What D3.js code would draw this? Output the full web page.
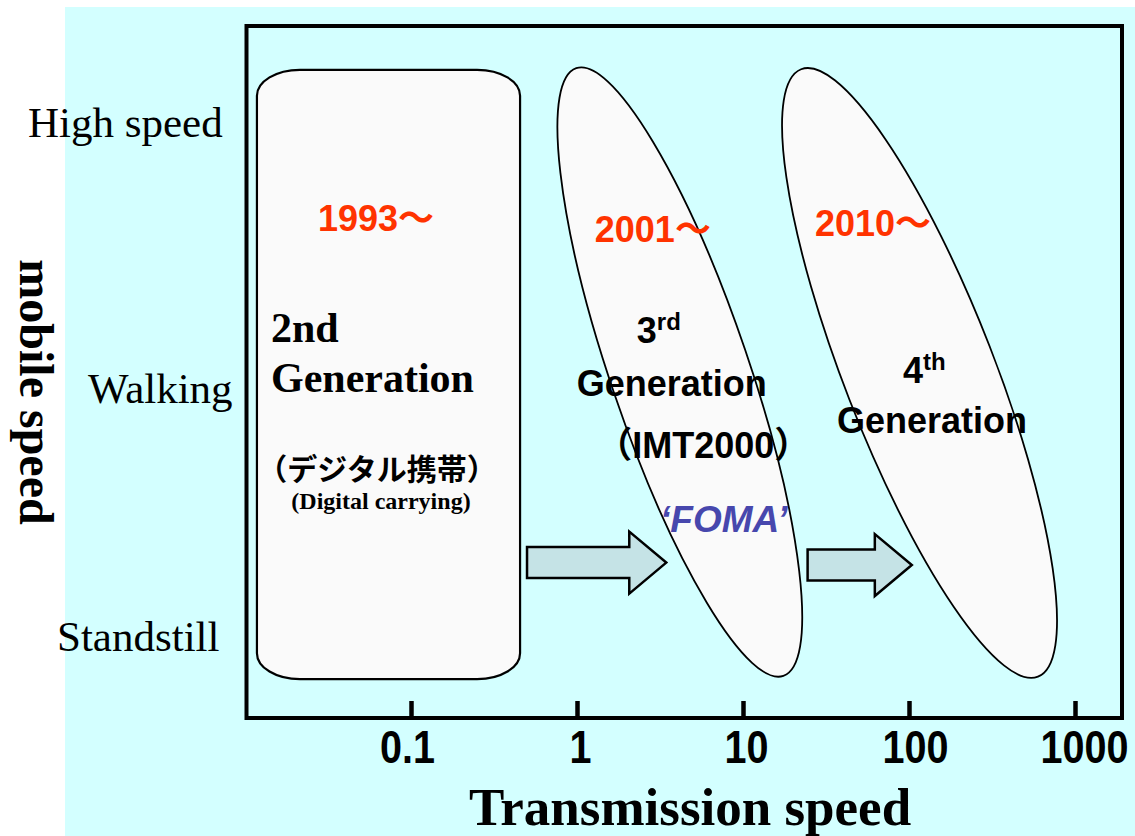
<!DOCTYPE html>
<html>
<head>
<meta charset="utf-8">
<script src="https://cdn.jsdelivr.net/npm/d3@7"></script>
<style>
  body { margin: 0; background: #ffffff; }
  svg { display: block; }
</style>
</head>
<body>
<svg id="chart" width="1135" height="836"></svg>
<script>
// ---- data ----
const speedTicks = [0.1, 1, 10, 100, 1000];
const speedTickLabels = ["0.1", "1", "10", "100", "1000"];
const mobilityLevels = ["Standstill", "Walking", "High speed"];   // 0, 1, 2
const generations = ["2nd", "3rd", "4th"];
const genStartYears = ["1993～", "2001～", "2010～"];
const genShapes = ["box", "ellipse", "ellipse"];
// transmission speed at the high-mobility end and at the standstill end
const genSpeedFrom = [0.0118, 0.99, 22.4];
const genSpeedTo = [0.454, 17.5, 598];
// mobility extent of each generation
const genMobilityTop = [2.2, 2.206, 2.202];
const genMobilityBottom = [-0.17, -0.157, -0.16];
// evolution arrows between generations
const arrowSpeedFrom = [0.5, 24.5];
const arrowSpeedTo = [3.45, 104];
const arrowMobility = [0.3, 0.29];

// ---- layout ----
const W = 1135, H = 836;
const frame = { left: 246.5, top: 26, right: 1122, bottom: 718 };
const ellipseHalfWidth = [0, 69, 75];
const mobilityLabelX = [57, 88, 28];
const tickLabelShift = [-4, 3, 3, 6, 9];

const RED = "#ff3300";
const BLUE = "#4747ad";
const SERIF = "'Liberation Serif', 'Times New Roman', serif";
const SANS = "'Liberation Sans', Arial, 'Noto Sans CJK JP', sans-serif";
const NARROW = "'Liberation Sans Narrow', 'Arial Narrow', 'Liberation Sans', sans-serif";
const CJK = "'Noto Sans CJK JP', sans-serif";

const svg = d3.select("#chart");

const x = d3.scaleLog().domain([0.1, 1000]).range([411, 1075]);
const y = d3.scaleLinear().domain([0, 1, 2]).range([637, 389, 123]);

// page background
svg.append("rect")
  .attr("x", 65).attr("y", 7)
  .attr("width", W - 65).attr("height", H - 7)
  .attr("fill", "#d3ffff");

// ---- generation regions ----
const gens = generations.map((g, i) => {
  const x0 = x(genSpeedFrom[i]), x1 = x(genSpeedTo[i]);
  const y0 = y(genMobilityTop[i]), y1 = y(genMobilityBottom[i]);
  return { i, g, shape: genShapes[i], x0, x1, y0, y1,
           cx: (x0 + x1) / 2, cy: (y0 + y1) / 2 };
});

const shapeG = svg.append("g");
gens.forEach(d => {
  if (d.shape === "box") {
    shapeG.append("rect")
      .attr("x", d.x0).attr("y", d.y0)
      .attr("width", d.x1 - d.x0).attr("height", d.y1 - d.y0)
      .attr("rx", 43).attr("ry", 26)
      .attr("fill", "#fafafa").attr("stroke", "#000").attr("stroke-width", 2.2);
  } else {
    const dx = d.x1 - d.x0, dy = d.y1 - d.y0;
    const a = Math.hypot(dx, dy) / 2;
    const ang = Math.atan2(dy, dx) * 180 / Math.PI;
    shapeG.append("ellipse")
      .attr("cx", d.cx).attr("cy", d.cy)
      .attr("rx", a).attr("ry", ellipseHalfWidth[d.i])
      .attr("transform", `rotate(${ang},${d.cx},${d.cy})`)
      .attr("fill", "#fafafa").attr("stroke", "#000").attr("stroke-width", 1.8);
  }
});

// ---- arrows ----
const arrowG = svg.append("g");
arrowSpeedFrom.forEach((s, i) => {
  const xa = x(s), xb = x(arrowSpeedTo[i]), yc = y(arrowMobility[i]);
  const hb = 15.5, hh = 31, hl = 37;
  const p = d3.path();
  p.moveTo(xa, yc - hb);
  p.lineTo(xb - hl, yc - hb);
  p.lineTo(xb - hl, yc - hh);
  p.lineTo(xb, yc);
  p.lineTo(xb - hl, yc + hh);
  p.lineTo(xb - hl, yc + hb);
  p.lineTo(xa, yc + hb);
  p.closePath();
  arrowG.append("path").attr("d", p.toString())
    .attr("fill", "#c5e3e6").attr("stroke", "#000").attr("stroke-width", 2.5)
    .attr("stroke-linejoin", "miter");
});

// ---- labels inside the regions (offsets from each region's centre) ----
const genText = [
  [
    { t: genStartYears[0], dx: -70.5, dy: -143, fam: SANS, size: 36, weight: "bold", fill: RED },
    { t: "2nd", dx: -117.5, dy: -32, fam: SERIF, size: 42, weight: "bold" },
    { t: "Generation", dx: -117.5, dy: 18, fam: SERIF, size: 42, weight: "bold" },
    { t: "（デジタル携帯）", dx: -11.5, dy: 106, fam: CJK, size: 30, weight: "bold", anchor: "middle" },
    { t: "(Digital carrying)", dx: -7.5, dy: 135, fam: SERIF, size: 24, weight: "bold", anchor: "middle" }
  ],
  [
    { t: genStartYears[1], dx: -85, dy: -130, fam: SANS, size: 36, weight: "bold", fill: RED },
    { t: "3", sup: "rd", dx: -43, dy: -29, fam: SANS, size: 36, weight: "bold" },
    { t: "Generation", dx: -103, dy: 24, fam: SANS, size: 36, weight: "bold" },
    { t: "（IMT2000）", dx: 23.5, dy: 86, fam: SANS, size: 36, weight: "bold", anchor: "middle" },
    { t: "‘FOMA’", dx: 44, dy: 160, fam: SANS, size: 37, weight: "bold", style: "italic", fill: BLUE, anchor: "middle" }
  ],
  [
    { t: genStartYears[2], dx: -104.5, dy: -137, fam: SANS, size: 36, weight: "bold", fill: RED },
    { t: "4", sup: "th", dx: -16.5, dy: 10, fam: SANS, size: 36, weight: "bold" },
    { t: "Generation", dx: -82.5, dy: 60, fam: SANS, size: 36, weight: "bold" }
  ]
];

const textG = svg.append("g");
gens.forEach(d => {
  genText[d.i].forEach(l => {
    const txt = textG.append("text")
      .attr("x", d.cx + l.dx).attr("y", d.cy + l.dy)
      .attr("font-family", l.fam).attr("font-size", l.size)
      .attr("font-weight", l.weight || "normal")
      .attr("font-style", l.style || "normal")
      .attr("text-anchor", l.anchor || "start")
      .attr("fill", l.fill || "#000");
    txt.append("tspan").text(l.t);
    if (l.sup) {
      txt.append("tspan").attr("font-size", 24).attr("dy", -13).text(l.sup);
    }
  });
});

// ---- frame ----
svg.append("rect")
  .attr("x", frame.left).attr("y", frame.top)
  .attr("width", frame.right - frame.left).attr("height", frame.bottom - frame.top)
  .attr("fill", "none").attr("stroke", "#000").attr("stroke-width", 4);

// ---- x axis ----
const xAxis = d3.axisBottom(x)
  .tickValues(speedTicks)
  .tickFormat((d, i) => speedTickLabels[i])
  .tickSize(-17)
  .tickPadding(12);

const axG = svg.append("g")
  .attr("transform", `translate(0,${frame.bottom})`)
  .call(xAxis);
axG.select(".domain").remove();
axG.selectAll(".tick line").attr("stroke", "#000").attr("stroke-width", 4.5);
axG.selectAll(".tick text")
  .attr("fill", "#000")
  .attr("font-family", NARROW)
  .attr("font-weight", "bold")
  .attr("font-size", 46)
  .attr("transform", (d, i) => `translate(${tickLabelShift[i]},0) scale(0.86,1)`);

svg.append("text")
  .attr("x", 690).attr("y", 825)
  .attr("text-anchor", "middle")
  .attr("font-family", SERIF).attr("font-weight", "bold").attr("font-size", 53)
  .text("Transmission speed");

// ---- y category labels ----
svg.append("g").selectAll("text")
  .data(mobilityLevels)
  .join("text")
  .attr("x", (d, i) => mobilityLabelX[i])
  .attr("y", (d, i) => y(i))
  .attr("dy", "0.32em")
  .attr("font-family", SERIF).attr("font-size", 43)
  .attr("fill", "#000")
  .text(d => d);

svg.append("text")
  .attr("transform", "translate(20,392) rotate(90)")
  .attr("text-anchor", "middle")
  .attr("font-family", SERIF).attr("font-weight", "bold").attr("font-size", 48)
  .text("mobile speed");
</script>
</body>
</html>
